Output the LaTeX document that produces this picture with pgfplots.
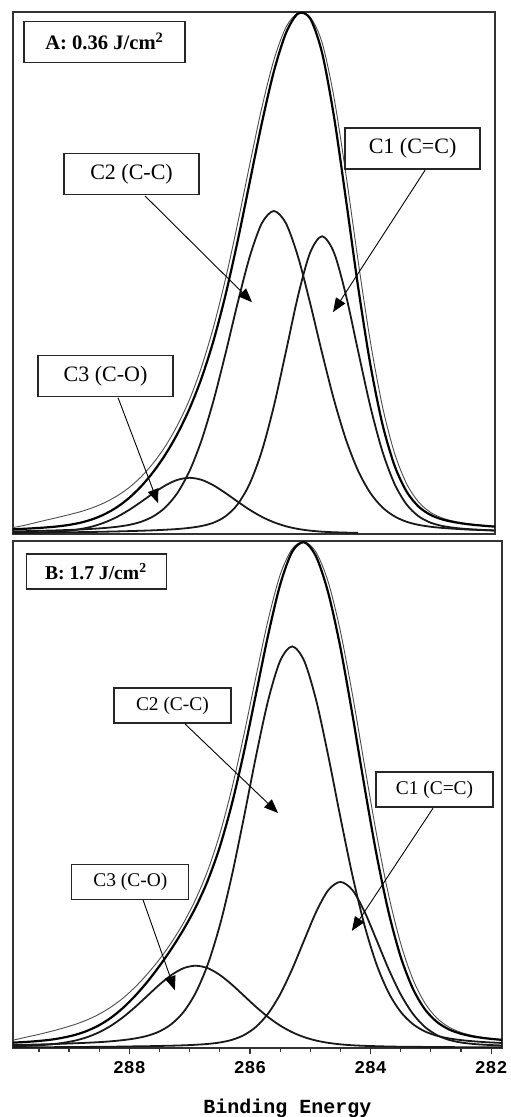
\documentclass[border=0pt]{standalone}
\usepackage{fontspec}
\setmainfont{Liberation Serif}
\setmonofont{Liberation Mono}
\usepackage{pgfplots}
\pgfplotsset{compat=1.18}
\usepackage{pgfplotstable}
\usetikzlibrary{arrows.meta}

% C 1s fits: binding energy, components, fitted envelope, measured spectrum
\pgfplotstableread{
E     C2    C1    C3    env   raw
290.0 0.47  0.21  0.18  0.86  1.09
289.8 0.52  0.23  0.21  0.96  1.50
289.6 0.57  0.25  0.26  1.08  2.03
289.4 0.63  0.27  0.33  1.23  2.59
289.2 0.69  0.30  0.44  1.43  3.12
289.0 0.77  0.32  0.64  1.73  3.67
288.8 0.86  0.36  0.96  2.18  4.28
288.6 0.99  0.39  1.47  2.85  5.04
288.4 1.15  0.44  2.23  3.82  6.02
288.2 1.38  0.49  3.27  5.14  7.27
288.0 1.74  0.55  4.60  6.89  8.86
287.8 2.34  0.62  6.15  9.11  10.93
287.6 3.37  0.70  7.77  11.84 13.53
287.4 5.08  0.81  9.25  15.14 16.73
287.2 7.83  0.95  10.31 19.09 20.72
287.0 11.99 1.17  10.70 23.86 25.61
286.8 17.86 1.52  10.31 29.69 31.85
286.6 25.47 2.16  9.25  36.88 39.51
286.4 34.48 3.39  7.77  45.64 48.71
286.2 44.04 5.67  6.15  55.86 59.21
286.0 52.83 9.61  4.60  67.04 70.39
285.8 59.17 15.78 3.27  78.22 81.18
285.6 61.50 24.35 2.23  88.08 90.26
285.4 59.17 34.72 1.47  95.36 96.48
285.2 52.83 45.29 0.96  99.08 99.20
285.0 44.04 53.52 0.64  98.20 98.46
284.8 34.48 56.70 0.44  91.62 93.59
284.6 25.47 53.52 0.33  79.32 83.01
284.4 17.86 45.29 0.26  63.41 68.18
284.2 11.99 34.72 0.21  46.92 51.87
284.0 7.83  24.35 0.18  32.36 36.73
283.8 5.08  15.78 0.16  21.02 24.42
283.6 3.37  9.61  0.14  13.12 15.49
283.4 2.34  5.67  0.12  8.13  9.63
283.2 1.74  3.39  0.11  5.24  6.11
283.0 1.38  2.16  0.10  3.64  4.12
282.8 1.15  1.52  0.09  2.76  3.02
282.6 0.99  1.17  0.08  2.24  2.40
282.4 0.86  0.95  0.08  1.89  1.99
282.2 0.77  0.81  0.07  1.65  1.72
282.0 0.69  0.70  0.07  1.46  1.52
281.8 0.63  0.62  0.06  1.31  1.36
}\fluenceA

\pgfplotstableread{
E     C2    C1    C3    env   raw
290.1 0.53  0.12  0.29  0.94  1.18
289.9 0.58  0.13  0.35  1.06  1.60
289.7 0.63  0.14  0.42  1.19  2.14
289.5 0.69  0.15  0.53  1.37  2.65
289.3 0.75  0.16  0.71  1.62  3.24
289.1 0.83  0.18  1.00  2.01  3.87
288.9 0.92  0.19  1.44  2.55  4.59
288.7 1.02  0.21  2.11  3.34  5.47
288.5 1.14  0.23  3.07  4.44  6.59
288.3 1.31  0.25  4.37  5.93  8.01
288.1 1.54  0.28  6.03  7.85  9.75
287.9 1.87  0.32  8.00  10.19 11.90
287.7 2.38  0.35  10.17 12.90 14.42
287.5 3.23  0.40  12.33 15.96 17.27
287.3 4.67  0.45  14.21 19.33 20.56
287.1 7.03  0.52  15.53 23.08 24.37
286.9 10.74 0.63  16.00 27.37 28.93
286.7 16.24 0.79  15.53 32.56 34.53
286.5 23.84 1.07  14.21 39.12 41.62
286.3 33.54 1.58  12.33 47.45 50.48
286.1 44.86 2.51  10.17 57.54 60.93
285.9 56.73 4.11  8.00  68.84 72.26
285.7 67.53 6.68  6.03  80.24 83.19
285.5 75.27 10.43 4.37  90.07 92.00
285.3 78.10 15.34 3.07  96.51 97.07
285.1 75.27 20.98 2.11  98.36 98.45
284.9 67.53 26.52 1.44  95.49 96.35
284.7 56.73 30.71 1.00  88.44 90.56
284.5 44.86 32.30 0.71  77.87 81.04
284.3 33.54 30.71 0.53  64.78 68.71
284.1 23.84 26.52 0.42  50.78 54.98
283.9 16.24 20.98 0.35  37.57 41.53
283.7 10.74 15.34 0.29  26.37 29.73
283.5 7.03  10.43 0.25  17.71 20.31
283.3 4.67  6.68  0.23  11.58 13.42
283.1 3.23  4.11  0.21  7.55  8.76
282.9 2.38  2.51  0.19  5.08  5.82
282.7 1.87  1.58  0.17  3.62  4.06
282.5 1.54  1.07  0.16  2.77  3.03
282.3 1.31  0.79  0.14  2.24  2.40
282.1 1.14  0.63  0.13  1.90  2.00
281.9 1.02  0.52  0.12  1.66  1.73
281.7 0.92  0.45  0.11  1.48  1.53
}\fluenceB

\pgfplotsset{
  xps/.style={
    scale only axis, x dir=reverse, ymin=0,
    ytick=\empty,
    axis line style={draw=black!80, line width=0.7pt},
  },
  comp/.style={no marks, smooth, black!90, line width=0.9pt},
  fit/.style={no marks, smooth, black, line width=1.1pt},
  meas/.style={no marks, smooth, black!70, line width=0.45pt},
}
\tikzset{
  lbl/.style={draw=black!85, line width=0.6pt, fill=white, inner sep=0pt, align=center},
  arr/.style={-{Triangle[length=7pt,width=5.5pt]}, line width=0.45pt, black},
}

\begin{document}
\begin{tikzpicture}

% ---- A: 0.36 J/cm2 ----
\begin{axis}[xps,
  at={(6.5pt,291.5pt)}, anchor=south west,
  width=241pt, height=261pt,
  xmin=281.93, xmax=289.93, ymax=99.4,
  xtick=\empty]
  \addplot[meas] table[x=E, y=raw] {\fluenceA};
  \addplot[fit]  table[x=E, y=env] {\fluenceA};
  \addplot[comp] table[x=E, y=C2]  {\fluenceA};
  \addplot[comp] table[x=E, y=C1]  {\fluenceA};
  \addplot[comp, restrict x to domain=284.1:290.1] table[x=E, y=C3] {\fluenceA};

  \node[lbl, minimum width=80.5pt, minimum height=20.5pt,
        font=\bfseries\fontsize{10.3}{12}\selectfont]
    at (axis description cs:0.190,0.943) {A: 0.36 J/cm\textsuperscript{2}};

  \node[lbl, minimum width=67.5pt, minimum height=20.5pt, font=\fontsize{11}{13}\selectfont]
    at (axis description cs:0.246,0.689) {C2 (C-C)};
  \draw[arr] (axis description cs:0.274,0.6475) -- (axis description cs:0.496,0.444);

  \node[lbl, minimum width=67.5pt, minimum height=20.5pt, font=\fontsize{11}{13}\selectfont]
    at (axis description cs:0.829,0.7385) {C1 (C=C)};
  \draw[arr] (axis description cs:0.855,0.697) -- (axis description cs:0.664,0.425);

  \node[lbl, minimum width=67.5pt, minimum height=20.5pt, font=\fontsize{11}{13}\selectfont]
    at (axis description cs:0.192,0.302) {C3 (C-O)};
  \draw[arr] (axis description cs:0.218,0.261) -- (axis description cs:0.301,0.059);
\end{axis}

% ---- B: 1.7 J/cm2 ----
\begin{axis}[xps,
  at={(6.5pt,34.5pt)}, anchor=south west,
  width=244.5pt, height=253.5pt,
  xmin=281.82, xmax=289.93, ymax=98.6,
  xtick={282,284,286,288},
  minor xtick={282.5,283,283.5,284.5,285,285.5,286.5,287,287.5,288.5,289,289.5},
  xtick pos=left, tick align=outside,
  major tick length=3pt, minor tick length=2pt,
  tick style={black!80, line width=0.6pt},
  /pgf/number format/assume math mode=true,
  xticklabel style={font=\ttfamily\bfseries\fontsize{9}{10}\selectfont},
  xlabel={Binding Energy},
  xlabel style={font=\ttfamily\bfseries\fontsize{10}{12}\selectfont,
                at={(axis description cs:0.561,0)}, anchor=base, yshift=-32.5pt}]
  \addplot[meas] table[x=E, y=raw] {\fluenceB};
  \addplot[fit]  table[x=E, y=env] {\fluenceB};
  \addplot[comp] table[x=E, y=C2]  {\fluenceB};
  \addplot[comp] table[x=E, y=C1]  {\fluenceB};
  \addplot[comp] table[x=E, y=C3]  {\fluenceB};

  \node[lbl, minimum width=70pt, minimum height=17.5pt,
        font=\bfseries\fontsize{9.8}{11}\selectfont]
    at (axis description cs:0.170,0.940) {B: 1.7 J/cm\textsuperscript{2}};

  \node[lbl, minimum width=58.5pt, minimum height=17.5pt, font=\fontsize{9.7}{11}\selectfont]
    at (axis description cs:0.326,0.6755) {C2 (C-C)};
  \draw[arr] (axis description cs:0.352,0.639) -- (axis description cs:0.542,0.4635);

  \node[lbl, minimum width=58.5pt, minimum height=17.5pt, font=\fontsize{9.7}{11}\selectfont]
    at (axis description cs:0.862,0.510) {C1 (C=C)};
  \draw[arr] (axis description cs:0.859,0.473) -- (axis description cs:0.693,0.231);

  \node[lbl, minimum width=58.5pt, minimum height=17.5pt, font=\fontsize{9.7}{11}\selectfont]
    at (axis description cs:0.240,0.328) {C3 (C-O)};
  \draw[arr] (axis description cs:0.266,0.292) -- (axis description cs:0.331,0.114);
\end{axis}

\pgfresetboundingbox
\path[use as bounding box] (0,0) rectangle (255pt,558.5pt);
\end{tikzpicture}
\end{document}
